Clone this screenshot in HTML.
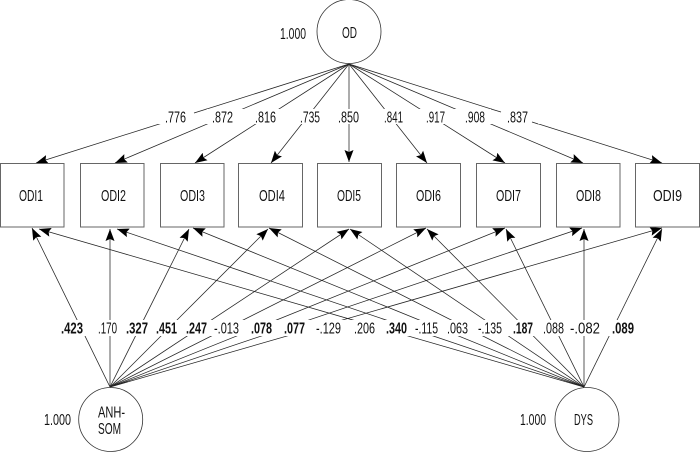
<!DOCTYPE html>
<html>
<head>
<meta charset="utf-8">
<style>
html,body{margin:0;padding:0;background:#fff;}
svg{display:block;}
text{font-family:"Liberation Sans Narrow","Liberation Sans",sans-serif;font-size:15.5px;fill:#111;}
.b{font-weight:bold;}
.l line{stroke:#222;stroke-width:.75;marker-end:url(#a);}
.s line{stroke:#222;stroke-width:.75;}
rect.box{fill:#fff;stroke:#666;stroke-width:1;}
circle{fill:#fff;stroke:#333;stroke-width:.8;}
</style>
</head>
<body>
<svg width="700" height="452" viewBox="0 0 700 452" xmlns="http://www.w3.org/2000/svg">
<defs>
<marker id="a" markerUnits="userSpaceOnUse" markerWidth="13" markerHeight="11" refX="12" refY="5" orient="auto">
<path d="M0,0.5 L12,5 L0,9.5 L2,5 Z" fill="#000"/>
</marker>
</defs>

<g class="l">
<line x1="349" y1="64" x2="36" y2="163"/>
<line x1="349" y1="64" x2="115" y2="163"/>
<line x1="349" y1="64" x2="195" y2="163"/>
<line x1="349" y1="64" x2="271" y2="163"/>
<line x1="349" y1="64" x2="349" y2="162"/>
<line x1="349" y1="64" x2="427" y2="163"/>
<line x1="349" y1="64" x2="505" y2="163"/>
<line x1="349" y1="64" x2="583" y2="163"/>
<line x1="349" y1="64" x2="662" y2="163"/>

<line x1="110" y1="387" x2="32" y2="228"/>
<line x1="110" y1="387" x2="110" y2="229"/>
<line x1="110" y1="387" x2="189" y2="229"/>
<line x1="110" y1="387" x2="268" y2="229"/>
<line x1="110" y1="387" x2="349" y2="229"/>
<line x1="110" y1="387" x2="426" y2="228"/>
<line x1="110" y1="387" x2="505" y2="228"/>
<line x1="110" y1="387" x2="582" y2="228"/>
<line x1="110" y1="387" x2="662" y2="228"/>

<line x1="584" y1="387" x2="39" y2="229"/>
<line x1="584" y1="387" x2="117" y2="229"/>
<line x1="584" y1="387" x2="193" y2="228"/>
<line x1="584" y1="387" x2="269" y2="228"/>
<line x1="584" y1="387" x2="350" y2="229"/>
<line x1="584" y1="387" x2="427" y2="229"/>
<line x1="584" y1="387" x2="506" y2="229"/>
<line x1="584" y1="387" x2="584" y2="229"/>
<line x1="584" y1="387" x2="662" y2="229"/>
</g>

<rect x="0" y="109" width="700" height="15" fill="#fff"/>
<rect x="0" y="320" width="700" height="16" fill="#fff"/>

<g class="s">
<line x1="206.7" y1="109" x2="194" y2="113"/>
<line x1="491" y1="109" x2="501" y2="112"/>
<line x1="532" y1="122" x2="538.2" y2="124"/>
</g>

<rect class="box" x="0.5" y="163.5" width="63.5" height="63.5"/>
<rect class="box" x="80.5" y="163.5" width="63.5" height="63.5"/>
<rect class="box" x="160.5" y="163.5" width="63.5" height="63.5"/>
<rect class="box" x="238.5" y="163.5" width="64" height="63.5"/>
<rect class="box" x="317.5" y="163.5" width="64" height="63.5"/>
<rect class="box" x="396.5" y="163.5" width="64" height="63.5"/>
<rect class="box" x="476.5" y="163.5" width="64" height="63.5"/>
<rect class="box" x="556.5" y="163.5" width="63.5" height="63.5"/>
<rect class="box" x="635.5" y="163.5" width="64" height="63.5"/>

<circle cx="349" cy="31.5" r="32"/>
<circle cx="110.7" cy="419.5" r="32"/>
<circle cx="587" cy="419.5" r="32"/>

<g>
<text x="280" y="39" textLength="26" lengthAdjust="spacingAndGlyphs">1.000</text>
<text x="342" y="38" textLength="15" lengthAdjust="spacingAndGlyphs">OD</text>

<text x="165" y="122.5" textLength="21" lengthAdjust="spacingAndGlyphs">.776</text>
<text x="212" y="122.5" textLength="21" lengthAdjust="spacingAndGlyphs">.872</text>
<text x="255" y="122.5" textLength="21" lengthAdjust="spacingAndGlyphs">.816</text>
<text x="300" y="122.5" textLength="20" lengthAdjust="spacingAndGlyphs">.735</text>
<text x="338" y="122.5" textLength="21" lengthAdjust="spacingAndGlyphs">.850</text>
<text x="384" y="122.5" textLength="19" lengthAdjust="spacingAndGlyphs">.841</text>
<text x="426" y="122.5" textLength="19" lengthAdjust="spacingAndGlyphs">.917</text>
<text x="465" y="122.5" textLength="20" lengthAdjust="spacingAndGlyphs">.908</text>
<text x="507" y="122.5" textLength="21" lengthAdjust="spacingAndGlyphs">.837</text>

<text x="19" y="201" textLength="24" lengthAdjust="spacingAndGlyphs">ODI1</text>
<text x="101" y="201" textLength="25" lengthAdjust="spacingAndGlyphs">ODI2</text>
<text x="180" y="201" textLength="25" lengthAdjust="spacingAndGlyphs">ODI3</text>
<text x="259" y="201" textLength="26" lengthAdjust="spacingAndGlyphs">ODI4</text>
<text x="337" y="201" textLength="24" lengthAdjust="spacingAndGlyphs">ODI5</text>
<text x="416" y="201" textLength="25" lengthAdjust="spacingAndGlyphs">ODI6</text>
<text x="496" y="201" textLength="25" lengthAdjust="spacingAndGlyphs">ODI7</text>
<text x="576" y="201" textLength="25" lengthAdjust="spacingAndGlyphs">ODI8</text>
<text x="653" y="201" textLength="29" lengthAdjust="spacingAndGlyphs">ODI9</text>

<text class="b" x="61" y="333.5" textLength="22" lengthAdjust="spacingAndGlyphs">.423</text>
<text x="98" y="333.5" textLength="19" lengthAdjust="spacingAndGlyphs">.170</text>
<text class="b" x="126" y="333.5" textLength="22" lengthAdjust="spacingAndGlyphs">.327</text>
<text class="b" x="156" y="333.5" textLength="21" lengthAdjust="spacingAndGlyphs">.451</text>
<text class="b" x="186" y="333.5" textLength="21" lengthAdjust="spacingAndGlyphs">.247</text>
<text x="214" y="333.5" textLength="25" lengthAdjust="spacingAndGlyphs">-.013</text>
<text class="b" x="251" y="333.5" textLength="21" lengthAdjust="spacingAndGlyphs">.078</text>
<text class="b" x="284" y="333.5" textLength="21" lengthAdjust="spacingAndGlyphs">.077</text>
<text x="316" y="333.5" textLength="25" lengthAdjust="spacingAndGlyphs">-.129</text>
<text x="354" y="333.5" textLength="21" lengthAdjust="spacingAndGlyphs">.206</text>
<text class="b" x="386" y="333.5" textLength="21" lengthAdjust="spacingAndGlyphs">.340</text>
<text x="415" y="333.5" textLength="23" lengthAdjust="spacingAndGlyphs">-.115</text>
<text x="447" y="333.5" textLength="21" lengthAdjust="spacingAndGlyphs">.063</text>
<text x="478" y="333.5" textLength="24" lengthAdjust="spacingAndGlyphs">-.135</text>
<text class="b" x="513" y="333.5" textLength="20" lengthAdjust="spacingAndGlyphs">.187</text>
<text x="543" y="333.5" textLength="21" lengthAdjust="spacingAndGlyphs">.088</text>
<text x="570" y="333.5" textLength="30" lengthAdjust="spacingAndGlyphs">-.082</text>
<text class="b" x="612" y="333.5" textLength="22" lengthAdjust="spacingAndGlyphs">.089</text>

<text x="44" y="425" textLength="27" lengthAdjust="spacingAndGlyphs">1.000</text>
<text x="98" y="417.5" textLength="27" lengthAdjust="spacingAndGlyphs">ANH-</text>
<text x="98" y="434" textLength="23" lengthAdjust="spacingAndGlyphs">SOM</text>
<text x="520" y="425" textLength="26" lengthAdjust="spacingAndGlyphs">1.000</text>
<text x="574" y="425" textLength="19" lengthAdjust="spacingAndGlyphs">DYS</text>
</g>
</svg>
</body>
</html>
